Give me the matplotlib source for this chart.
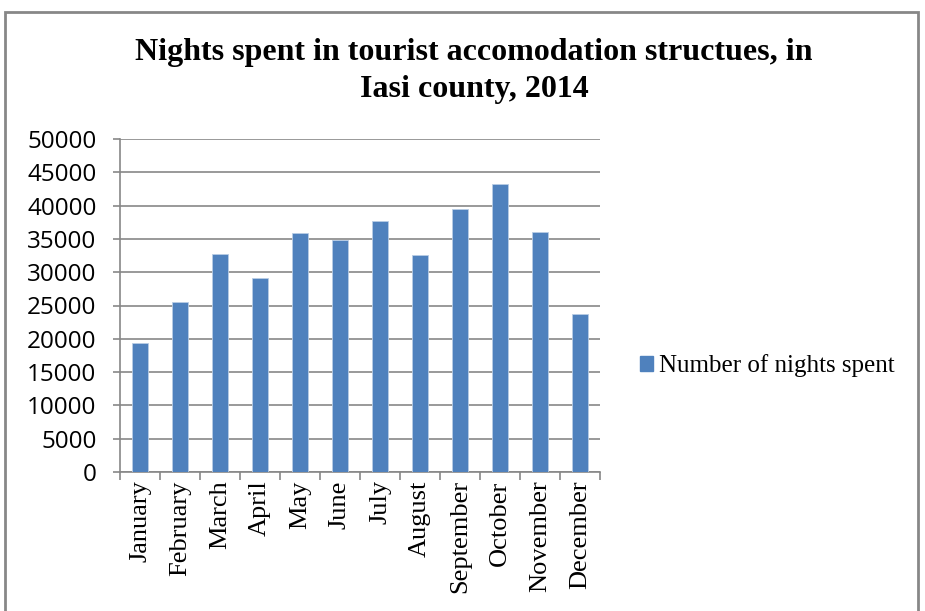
import matplotlib
matplotlib.use("Agg")
import matplotlib.pyplot as plt
from matplotlib.patches import Rectangle, Patch
import numpy as np

months = ["January", "February", "March", "April", "May", "June", "July",
          "August", "September", "October", "November", "December"]
nights = [19300, 25500, 32800, 29200, 35900, 34850, 37650, 32650, 39550, 43300, 36100, 23750]
series_name = "Number of nights spent"
title = "Nights spent in tourist accomodation structues, in\nIasi county, 2014"
yticks = list(range(0, 50001, 5000))

W, H = 925, 611
fig = plt.figure(figsize=(W / 100, H / 100), dpi=100)
ax = fig.add_axes([120 / W, 1 - 472 / H, 480 / W, (472 - 139) / H])

bar_color = "#4F81BD"
grid_color = "#878787"
x = np.arange(len(months))
ax.bar(x, nights, width=0.42, color=bar_color, edgecolor="#B9CDE5", linewidth=0.6, zorder=3)

ax.set_xlim(-0.5, len(months) - 0.5)
ax.set_ylim(0, 50000)
ax.set_yticks(yticks)
ax.set_yticklabels([str(v) for v in yticks], family="Open Sans", fontsize=17.5)
ax.yaxis.grid(True, color=grid_color, linewidth=1.2, zorder=0)
ax.tick_params(axis="y", length=5, color=grid_color, width=1.2, pad=12)

ax.set_xticks(x)
ax.set_xticklabels(months, rotation=90, family="Liberation Serif", fontsize=19)
ax.tick_params(axis="x", which="major", length=0, pad=6)
ax.set_xticks(np.arange(-0.5, len(months), 1), minor=True)
ax.tick_params(axis="x", which="minor", length=6, color=grid_color, width=1.2)

for s in ["top", "right"]:
    ax.spines[s].set_visible(False)
for s in ["left", "bottom"]:
    ax.spines[s].set_color(grid_color)
    ax.spines[s].set_linewidth(1.2)

fig.text(474 / W, 1 - 71 / H, title, ha="center", va="center",
         family="Liberation Serif", fontweight="bold", fontsize=23, linespacing=1.4)

handle = Patch(facecolor=bar_color, edgecolor=bar_color)
fig.legend([handle], [series_name], loc="center left",
           bbox_to_anchor=(640 / W, 1 - 366 / H), frameon=False,
           prop={"family": "Liberation Serif", "size": 18},
           handlelength=0.5, handleheight=0.5, handletextpad=0.25,
           borderpad=0, borderaxespad=0)

fig.patches.append(Rectangle((5 / W, -0.05), 913 / W, 1.05 - 12 / H,
                             transform=fig.transFigure, fill=False,
                             edgecolor=grid_color, linewidth=2))

fig.savefig("out.png", dpi=100, facecolor="white")
